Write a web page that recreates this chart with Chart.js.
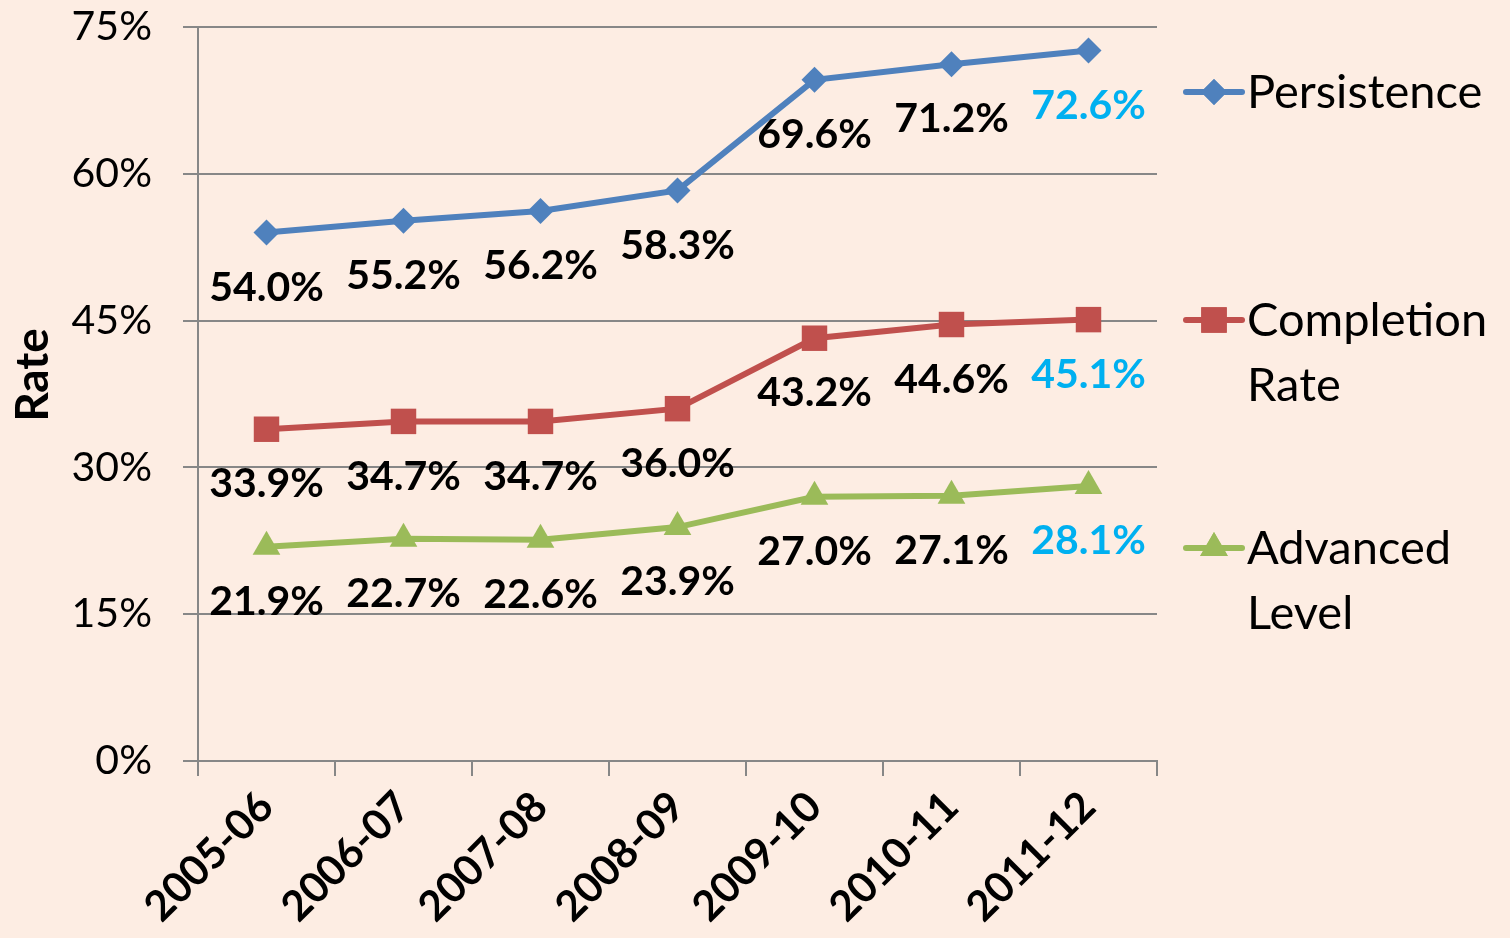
<!DOCTYPE html>
<html>
<head>
<meta charset="utf-8">
<script src="https://cdn.jsdelivr.net/npm/chart.js@4.4.1/dist/chart.umd.min.js"></script>
<style>
  html, body { margin: 0; padding: 0; background: #fdede3; }
  #wrap { width: 1510px; height: 938px; }
</style>
</head>
<body>
<div id="wrap"><canvas id="rateChart" width="1510" height="938"></canvas></div>
<script>
// chart data
const years = ['2005-06', '2006-07', '2007-08', '2008-09', '2009-10', '2010-11', '2011-12'];
const persistence = [54.0, 55.2, 56.2, 58.3, 69.6, 71.2, 72.6];
const completion = [33.9, 34.7, 34.7, 36.0, 43.2, 44.6, 45.1];
const advanced = [21.9, 22.7, 22.6, 23.9, 27.0, 27.1, 28.1];
const yTicks = [0, 15, 30, 45, 60, 75];
const legendNames = [['Persistence'], ['Completion', 'Rate'], ['Advanced', 'Level']];

const gridGray = '#878787';
const fontName = 'Lato';

// value labels under every point, last one highlighted
const valueLabels = {
    id: 'valueLabels',
    afterDatasetsDraw(chart) {
        const ctx = chart.ctx;
        ctx.save();
        ctx.font = 'bold 41px ' + fontName;
        ctx.textAlign = 'center';
        ctx.textBaseline = 'middle';
        chart.data.datasets.forEach((ds, i) => {
            const meta = chart.getDatasetMeta(i);
            meta.data.forEach((pt, j) => {
                ctx.fillStyle = (j === ds.data.length - 1) ? '#00b0f0' : '#000000';
                ctx.fillText(ds.data[j].toFixed(1) + '%', pt.x, pt.y + 55);
            });
        });
        ctx.restore();
    }
};

// legend on the right and the rotated axis title
const sideLegend = {
    id: 'sideLegend',
    afterDraw(chart) {
        const ctx = chart.ctx;
        const area = chart.chartArea;
        ctx.save();

        // axis title
        ctx.translate(33, 375);
        ctx.rotate(-Math.PI / 2);
        ctx.font = 'bold 46px ' + fontName;
        ctx.fillStyle = '#000';
        ctx.textAlign = 'center';
        ctx.textBaseline = 'middle';
        ctx.fillText('Rate', 0, 0);
        ctx.setTransform(1, 0, 0, 1, 0, 0);

        const x0 = area.right + 29;
        chart.data.datasets.forEach((ds, i) => {
            const y = area.top + 65 + i * 228;
            ctx.strokeStyle = ds.borderColor;
            ctx.lineWidth = 6;
            ctx.lineCap = 'round';
            ctx.beginPath();
            ctx.moveTo(x0, y);
            ctx.lineTo(x0 + 56, y);
            ctx.stroke();
            ctx.fillStyle = ds.borderColor;
            Chart.helpers.drawPoint(ctx, {
                pointStyle: ds.pointStyle,
                radius: ds.pointRadius,
                rotation: 0,
                borderWidth: 0
            }, x0 + 28, y);
            ctx.fill();

            ctx.fillStyle = '#000';
            ctx.font = '47px ' + fontName;
            ctx.textAlign = 'left';
            ctx.textBaseline = 'alphabetic';
            legendNames[i].forEach((line, k) => {
                ctx.fillText(line, x0 + 61, y + 16 + k * 65);
            });
        });
        ctx.restore();
    }
};

const ctx = document.getElementById('rateChart').getContext('2d');
const rateChart = new Chart(ctx, {
    type: 'line',
    data: {
        labels: years,
        datasets: [
            {
                label: 'Persistence',
                data: persistence,
                borderColor: '#4f81bd',
                backgroundColor: '#4f81bd',
                borderWidth: 6,
                pointStyle: 'rectRot',
                pointRadius: 13,
                pointBorderWidth: 0
            },
            {
                label: 'Completion Rate',
                data: completion,
                borderColor: '#c0504d',
                backgroundColor: '#c0504d',
                borderWidth: 6,
                pointStyle: 'rect',
                pointRadius: 18,
                pointBorderWidth: 0
            },
            {
                label: 'Advanced Level',
                data: advanced,
                borderColor: '#9bbb59',
                backgroundColor: '#9bbb59',
                borderWidth: 6,
                pointStyle: 'triangle',
                pointRadius: 16,
                pointBorderWidth: 0
            }
        ]
    },
    options: {
        responsive: false,
        animation: false,
        devicePixelRatio: 1,
        layout: {
            padding: { top: 27, right: 353, left: 0, bottom: 0 }
        },
        plugins: {
            legend: { display: false },
            tooltip: { enabled: false }
        },
        scales: {
            x: {
                offset: true,
                grid: {
                    offset: true,
                    drawOnChartArea: false,
                    color: gridGray,
                    lineWidth: 2,
                    tickLength: 15
                },
                border: { color: gridGray, width: 2 },
                ticks: {
                    autoSkip: false,
                    maxRotation: 45,
                    minRotation: 45,
                    padding: 6,
                    color: '#000',
                    font: { family: fontName, size: 42, weight: 'bold' }
                },
                afterFit: (scale) => {
                    scale.height = 177;
                    scale.paddingLeft = 0;
                    scale.paddingRight = 0;
                }
            },
            y: {
                min: 0,
                max: 75,
                afterBuildTicks: (scale) => {
                    scale.ticks = yTicks.map(v => ({ value: v }));
                },
                grid: {
                    color: gridGray,
                    lineWidth: 2,
                    tickLength: 15
                },
                border: { color: gridGray, width: 2 },
                ticks: {
                    padding: 31,
                    color: '#000',
                    font: { family: fontName, size: 41, lineHeight: 1 },
                    callback: (v) => v + '%'
                },
                afterFit: (scale) => {
                    scale.width = 198;
                    scale.paddingTop = 0;
                    scale.paddingBottom = 0;
                }
            }
        }
    },
    plugins: [valueLabels, sideLegend]
});
</script>
</body>
</html>
